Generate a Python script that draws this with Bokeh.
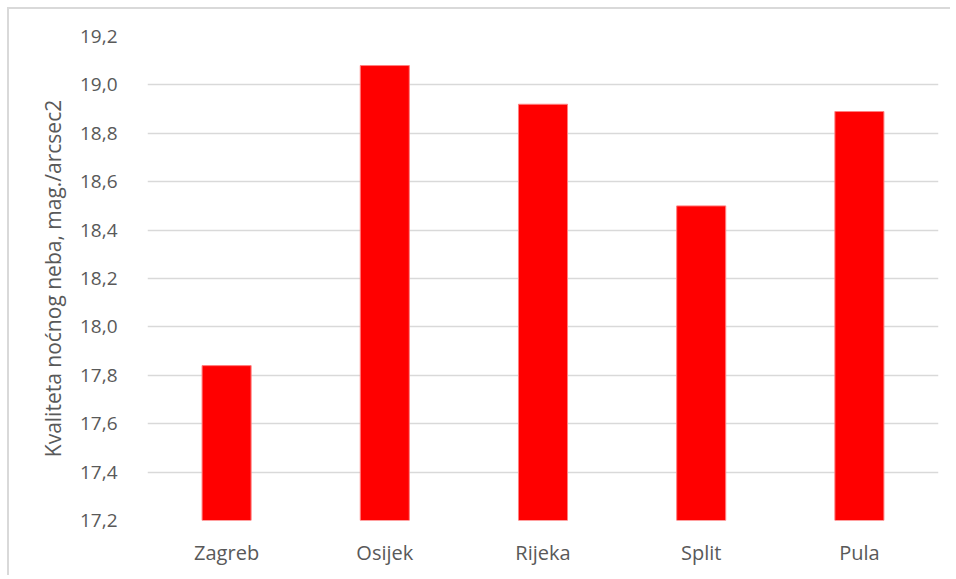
from bokeh.plotting import figure
from bokeh.models import ColumnDataSource, CustomJSTickFormatter, FixedTicker, Range1d, InlineStyleSheet
from bokeh.embed import file_html
from bokeh.resources import INLINE

cities = ["Zagreb", "Osijek", "Rijeka", "Split", "Pula"]
values = [17.84, 19.08, 18.92, 18.50, 18.89]
y_ticks = [17.2, 17.4, 17.6, 17.8, 18.0, 18.2, 18.4, 18.6, 18.8, 19.0, 19.2]
y_label = "Kvaliteta noćnog neba, mag./arcsec2"

src = ColumnDataSource(dict(x=cities, top=values))

p = figure(x_range=cities, y_range=Range1d(17.2, 19.2), width=950, height=575,
           output_backend="svg", toolbar_location=None,
           min_border_left=147, min_border_right=12, min_border_top=36, min_border_bottom=55)
p.border_fill_color = None
p.background_fill_color = "white"
p.stylesheets = [InlineStyleSheet(css=(
    ":host { background: "
    "linear-gradient(#d9d9d9,#d9d9d9) 7px 7px / 100% 2px no-repeat, "
    "linear-gradient(#d9d9d9,#d9d9d9) 7px 7px / 2px 100% no-repeat, white; }"))]
p.outline_line_color = None
p.vbar(x="x", top="top", bottom=17.2, width=0.31, source=src,
       fill_color="#ff0000", line_color="#ff8080", line_width=1)

p.yaxis.ticker = FixedTicker(ticks=y_ticks)
p.yaxis.formatter = CustomJSTickFormatter(code="return tick.toFixed(1).replace('.', ',');")
for ax in (p.xaxis, p.yaxis):
    ax.axis_line_color = None
    ax.major_tick_line_color = None
    ax.minor_tick_line_color = None
    ax.major_label_text_font = "Open Sans"
    ax.major_label_text_font_size = "19px"
    ax.major_label_text_color = "#595959"
p.xaxis.major_label_text_font_size = "20px"
p.yaxis.major_label_standoff = 24
p.xaxis.major_label_standoff = 12
p.yaxis.axis_label = y_label
p.yaxis.axis_label_text_font = "Open Sans"
p.yaxis.axis_label_text_font_size = "21px"
p.yaxis.axis_label_text_font_style = "normal"
p.yaxis.axis_label_text_color = "#595959"
p.yaxis.axis_label_standoff = 10

p.xgrid.grid_line_color = None
p.ygrid.ticker = FixedTicker(ticks=y_ticks)
p.ygrid.grid_line_color = "#d9d9d9"
p.ygrid.grid_line_width = 1.5

open("out.html", "w").write(file_html(p, INLINE))
